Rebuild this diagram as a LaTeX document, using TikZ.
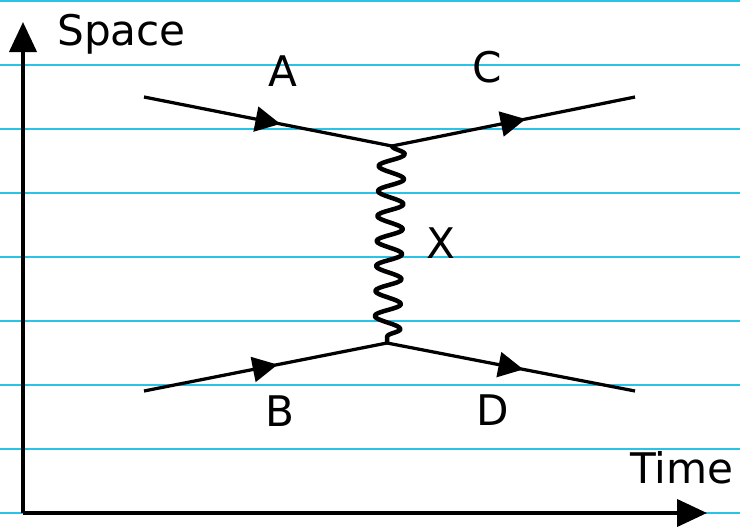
\documentclass[tikz,border=0pt]{standalone}
\usepackage{fontspec}
\setmainfont{DejaVu Sans}
\usetikzlibrary{arrows.meta,decorations.pathmorphing,decorations.markings}
\definecolor{ruled}{RGB}{40,195,230}

\begin{document}
\begin{tikzpicture}[x=0.2mm,y=-0.2mm,
    rule/.style={draw=ruled,line width=0.25mm},
    axis/.style={line width=0.8mm,-{Triangle[length=6mm,width=5.4mm]}},
    fermion/.style={line width=0.65mm,postaction={decorate},
      decoration={markings,mark=at position 0.55 with {\arrow{Triangle[length=5mm,width=5mm]}}}},
    photon/.style={decorate,decoration={snake,amplitude=2.6mm,segment length=5mm},
      line width=0.9mm,line join=round},
    lab/.style={inner sep=0pt,anchor=base,font=\fontsize{24}{28}\selectfont}]
  \useasboundingbox (0,0) rectangle (740,526);
  % liniertes Papier
  \foreach \y in {1,65,...,513}
    \draw[rule] (0,\y) -- (740,\y);
  % Achsen
  \coordinate (O) at (23,513);
  \coordinate (ytip) at (23,22);
  \coordinate (xtip) at (707,513);
  \draw[axis] (O) -- (ytip);
  \draw[axis] (O) -- (xtip);
  \node[lab,anchor=base west] (space) at (57,45) {Space};
  \node[lab,anchor=base west] (time) at (630,483) {Time};
  % Vertices und Enden der Linien
  \coordinate (V1) at (392,146);
  \coordinate (V2) at (387,343);
  \coordinate (inA) at (144,97);
  \coordinate (outC) at (635,97);
  \coordinate (inB) at (144,391);
  \coordinate (outD) at (635,391);
  \draw[fermion] (inA) -- (V1);
  \draw[fermion] (V1) -- (outC);
  \draw[fermion] (inB) -- (V2);
  \draw[fermion] (V2) -- (outD);
  \draw[photon] (V1) -- (V2);
  % Beschriftung
  \node[lab] (labA) at (283,86) {A};
  \node[lab] (labC) at (487,82) {C};
  \node[lab] (labB) at (280,426) {B};
  \node[lab] (labD) at (493,425) {D};
  \node[lab] (labX) at (441,258) {X};
\end{tikzpicture}
\end{document}
